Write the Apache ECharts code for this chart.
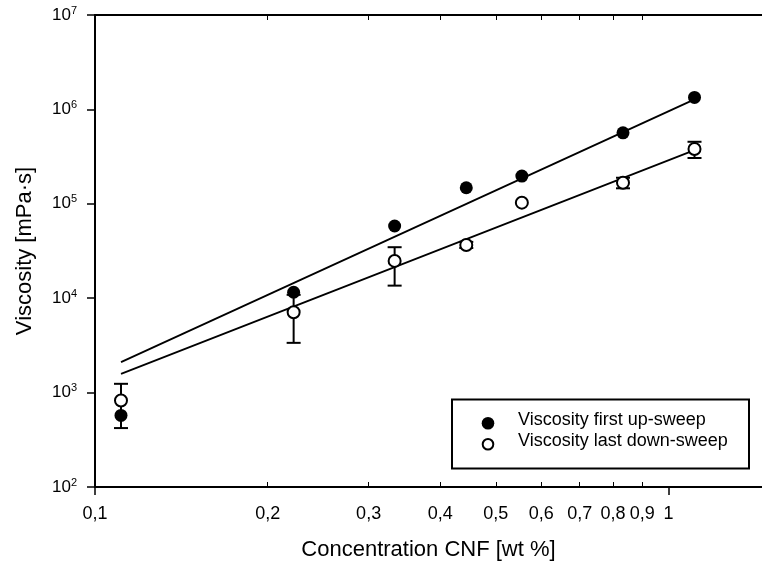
<!DOCTYPE html>
<html><head><meta charset="utf-8">
<script src="https://cdn.jsdelivr.net/npm/echarts@6/dist/echarts.min.js"></script>
<style>html,body{margin:0;padding:0;background:#fff}#c{width:762px;height:567px}</style>
</head><body><div id="c"></div>
<script>
// ---- data ----
const concentrations = [0.111, 0.222, 0.333, 0.444, 0.555, 0.833, 1.11];
const upSweep   = [573, 11560, 58200, 147900, 196800, 565000, 1340000];
const downSweep = [824, 7110, 24830, 36640, 102800, 167100, 380000];
const downErrLow  = [421, 3365, 13590, 34000, null, 145900, 305700];
const downErrHigh = [1239, 10860, 34690, 39500, null, 188800, 454000];
const fitX = [0.111, 1.11];
const fitUp = [2104, 1276000];
const fitDown = [1581, 370700];
const xMajorTicks = [0.1, 1];
const xMinorTicks = [0.2, 0.3, 0.4, 0.5, 0.6, 0.7, 0.8, 0.9];
const xLabelValues = [0.1, 0.2, 0.3, 0.4, 0.5, 0.6, 0.7, 0.8, 0.9, 1];
const xLabelTexts = ['0,1', '0,2', '0,3', '0,4', '0,5', '0,6', '0,7', '0,8', '0,9', '1'];
const yTicks = [100, 1000, 10000, 100000, 1000000, 10000000];
const yExponents = ['2', '3', '4', '5', '6', '7'];
const legendNames = ['Viscosity first up-sweep', 'Viscosity last down-sweep'];

const FONT = 'Liberation Sans, Arial, sans-serif';
const chart = echarts.init(document.getElementById('c'));

function pairs(xs, ys) { return xs.map((x, i) => [x, ys[i]]); }
const errData = concentrations.map((x, i) => [x, downErrLow[i], downErrHigh[i]])
  .filter(d => d[1] != null);

const baseX = {
  type: 'log', logBase: 10, min: 0.1, max: 1.4555, gridIndex: 0,
  splitLine: { show: false }, minorTick: { show: false }
};

chart.setOption({
  animation: false,
  backgroundColor: '#fff',
  grid: { left: 95, top: 15, bottom: 80, right: 0, containLabel: false },
  xAxis: [
    Object.assign({}, baseX, {
      position: 'bottom',
      axisLine: { show: true, lineStyle: { color: '#000', width: 2 } },
      axisTick: { show: true, inside: false, length: 8, customValues: xMajorTicks, lineStyle: { color: '#000', width: 1.5 } },
      axisLabel: {
        show: true, customValues: xLabelValues, margin: 18, color: '#000', fontSize: 18, fontFamily: FONT,
        formatter: v => { const i = xLabelValues.findIndex(t => Math.abs(t - v) < 1e-6); return i >= 0 ? xLabelTexts[i] : ''; }
      },
      name: 'Concentration CNF [wt %]', nameLocation: 'middle', nameGap: 52,
      nameTextStyle: { color: '#000', fontSize: 22, fontFamily: FONT }
    }),
    Object.assign({}, baseX, {
      position: 'bottom',
      axisLine: { show: false },
      axisTick: { show: true, inside: true, length: 5, customValues: xMinorTicks, lineStyle: { color: '#000', width: 1 } },
      axisLabel: { show: false }
    }),
    Object.assign({}, baseX, {
      position: 'top',
      axisLine: { show: true, lineStyle: { color: '#000', width: 2 } },
      axisTick: { show: true, inside: true, length: 5, customValues: xMinorTicks, lineStyle: { color: '#000', width: 1 } },
      axisLabel: { show: false }
    })
  ],
  yAxis: [{
    type: 'log', logBase: 10, min: 100, max: 10000000,
    splitLine: { show: false },
    axisLine: { show: true, lineStyle: { color: '#000', width: 2 } },
    axisTick: { show: true, inside: false, length: 8, customValues: yTicks, lineStyle: { color: '#000', width: 1.5 } },
    axisLabel: {
      show: true, customValues: yTicks, margin: 18, color: '#000', fontFamily: FONT,
      formatter: v => { const i = yTicks.findIndex(t => Math.abs(t - v) / t < 1e-6); return '{b|10}{s|' + (i >= 0 ? yExponents[i] : '') + '}'; },
      rich: {
        b: { fontSize: 17, lineHeight: 20, color: '#000', fontFamily: FONT },
        s: { fontSize: 11, lineHeight: 10, verticalAlign: 'top', color: '#000', fontFamily: FONT }
      }
    },
    name: 'Viscosity [mPa·s]', nameLocation: 'middle', nameGap: 59,
    nameTextStyle: { color: '#000', fontSize: 22, fontFamily: FONT }
  }],
  series: [
    { type: 'line', data: pairs(fitX, fitUp), symbol: 'none', lineStyle: { color: '#000', width: 1.8 }, z: 2, silent: true },
    { type: 'line', data: pairs(fitX, fitDown), symbol: 'none', lineStyle: { color: '#000', width: 1.8 }, z: 2, silent: true },
    {
      type: 'custom', data: errData, z: 3, silent: true,
      encode: { x: 0, y: [1, 2] },
      renderItem: (params, api) => {
        const x = api.value(0);
        const lo = api.coord([x, api.value(1)]);
        const hi = api.coord([x, api.value(2)]);
        const hw = 7;
        const st = { stroke: '#000', lineWidth: 2 };
        return {
          type: 'group', children: [
            { type: 'line', shape: { x1: lo[0], y1: lo[1], x2: hi[0], y2: hi[1] }, style: st },
            { type: 'line', shape: { x1: lo[0] - hw, y1: lo[1], x2: lo[0] + hw, y2: lo[1] }, style: st },
            { type: 'line', shape: { x1: hi[0] - hw, y1: hi[1], x2: hi[0] + hw, y2: hi[1] }, style: st }
          ]
        };
      }
    },
    {
      name: legendNames[1], type: 'scatter', data: pairs(concentrations, downSweep), z: 4,
      symbol: 'circle', symbolSize: 12,
      itemStyle: { color: '#fff', borderColor: '#000', borderWidth: 2, opacity: 1 }
    },
    {
      name: legendNames[0], type: 'scatter', data: pairs(concentrations, upSweep), z: 5,
      symbol: 'circle', symbolSize: 13,
      itemStyle: { color: '#000', opacity: 1 }
    }
  ],
  graphic: [
    { type: 'rect', z: 10, shape: { x: 452, y: 399.5, width: 297, height: 69 }, style: { fill: '#fff', stroke: '#000', lineWidth: 2 } },
    { type: 'circle', z: 11, shape: { cx: 488, cy: 423.3, r: 6.3 }, style: { fill: '#000' } },
    { type: 'circle', z: 11, shape: { cx: 488, cy: 444.3, r: 5.3 }, style: { fill: '#fff', stroke: '#000', lineWidth: 2 } },
    { type: 'text', z: 11, x: 518, y: 420.5, style: { text: legendNames[0], fill: '#000', fontSize: 18, fontFamily: FONT, verticalAlign: 'middle', align: 'left' } },
    { type: 'text', z: 11, x: 518, y: 441.5, style: { text: legendNames[1], fill: '#000', fontSize: 18, fontFamily: FONT, verticalAlign: 'middle', align: 'left' } }
  ]
});
</script>
</body></html>
